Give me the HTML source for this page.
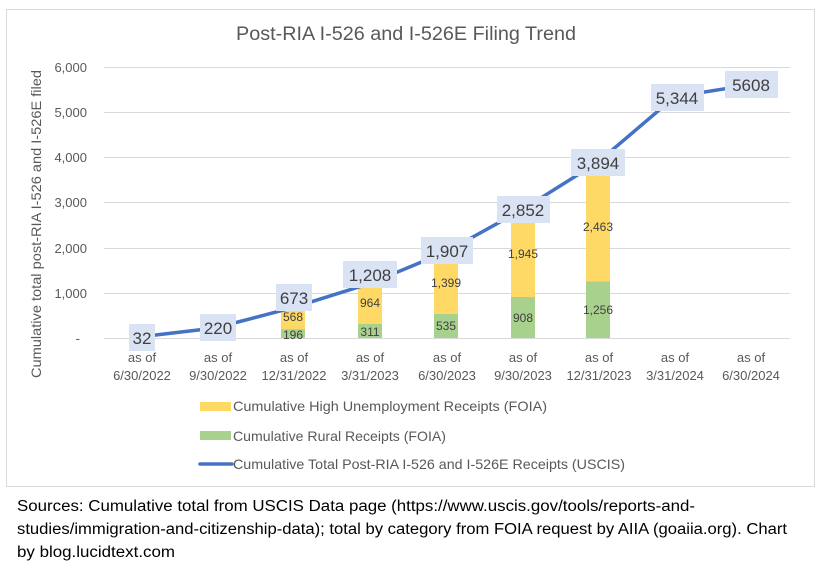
<!DOCTYPE html>
<html><head><meta charset="utf-8"><style>
body{margin:0;background:#fff;width:818px;height:563px;overflow:hidden;font-family:"Liberation Sans",sans-serif;}
</style></head><body>
<svg width="818" height="563" xmlns="http://www.w3.org/2000/svg" font-family="Liberation Sans, sans-serif">
<rect x="6.5" y="9.5" width="808" height="477" fill="#fff" stroke="#d9d9d9"/>
<text x="406" y="40" text-anchor="middle" font-size="19" fill="#595959" textLength="340" lengthAdjust="spacingAndGlyphs">Post-RIA I-526 and I-526E Filing Trend</text>
<g stroke="#d9d9d9" stroke-width="1">
<line x1="104" x2="790" y1="67.5" y2="67.5"/><line x1="104" x2="790" y1="112.5" y2="112.5"/>
<line x1="104" x2="790" y1="157.5" y2="157.5"/><line x1="104" x2="790" y1="202.5" y2="202.5"/>
<line x1="104" x2="790" y1="248.5" y2="248.5"/><line x1="104" x2="790" y1="293.5" y2="293.5"/>
<line x1="104" x2="790" y1="338.5" y2="338.5"/>
</g>
<g font-size="13" fill="#595959" text-anchor="end">
<text x="87" y="72">6,000</text><text x="87" y="117">5,000</text><text x="87" y="162">4,000</text>
<text x="87" y="207">3,000</text><text x="87" y="253">2,000</text><text x="87" y="298">1,000</text><text x="80" y="343">-</text>
</g>
<text transform="translate(41,224) rotate(-90)" text-anchor="middle" font-size="14" fill="#595959" textLength="308" lengthAdjust="spacingAndGlyphs">Cumulative total post-RIA I-526 and I-526E filed</text>
<g>
<rect x="281" y="303.5" width="24" height="25.6" fill="#ffd966"/><rect x="281" y="329.1" width="24" height="8.9" fill="#a9d18e"/>
<rect x="358" y="280.4" width="24" height="43.5" fill="#ffd966"/><rect x="358" y="323.9" width="24" height="14.1" fill="#a9d18e"/>
<rect x="434" y="250.6" width="24" height="63.2" fill="#ffd966"/><rect x="434" y="313.8" width="24" height="24.2" fill="#a9d18e"/>
<rect x="511" y="209.1" width="24" height="87.9" fill="#ffd966"/><rect x="511" y="297" width="24" height="41" fill="#a9d18e"/>
<rect x="586" y="170" width="24" height="111.3" fill="#ffd966"/><rect x="586" y="281.3" width="24" height="56.7" fill="#a9d18e"/>
</g>
<g font-size="12" fill="#404040" text-anchor="middle">
<text x="293" y="321">568</text><text x="293" y="339">196</text>
<text x="370" y="307">964</text><text x="370" y="336">311</text>
<text x="446" y="287">1,399</text><text x="446" y="330">535</text>
<text x="523" y="258">1,945</text><text x="523" y="322">908</text>
<text x="598" y="231">2,463</text><text x="598" y="314">1,256</text>
</g>
<polyline fill="none" stroke="#4472c4" stroke-width="3.5" stroke-linejoin="round" points="142,336.6 215,328 293,307.6 370,283.4 446,251.9 523,209.2 598,162.1 675,96.6 751,84.7"/>
<g fill="#dae3f3">
<rect x="129" y="324" width="26" height="27"/><rect x="200" y="314" width="36" height="27"/>
<rect x="276" y="284" width="36" height="27"/><rect x="343" y="261" width="54" height="27"/>
<rect x="421" y="237" width="52" height="27"/><rect x="497" y="196" width="53" height="27"/>
<rect x="571" y="149" width="54" height="27"/><rect x="651" y="84" width="53" height="27"/>
<rect x="725" y="71" width="53" height="27"/>
</g>
<g font-size="17" fill="#404040" text-anchor="middle">
<text x="142" y="344">32</text><text x="218" y="334">220</text><text x="294" y="304">673</text>
<text x="370" y="281">1,208</text><text x="447" y="257">1,907</text><text x="523" y="216">2,852</text>
<text x="598" y="169">3,894</text><text x="677" y="104">5,344</text><text x="751" y="91">5608</text>
</g>
<g font-size="13" fill="#595959" text-anchor="middle">
<text x="142" y="362">as of</text><text x="142" y="380">6/30/2022</text>
<text x="218" y="362">as of</text><text x="218" y="380">9/30/2022</text>
<text x="294" y="362">as of</text><text x="294" y="380">12/31/2022</text>
<text x="370" y="362">as of</text><text x="370" y="380">3/31/2023</text>
<text x="447" y="362">as of</text><text x="447" y="380">6/30/2023</text>
<text x="523" y="362">as of</text><text x="523" y="380">9/30/2023</text>
<text x="599" y="362">as of</text><text x="599" y="380">12/31/2023</text>
<text x="675" y="362">as of</text><text x="675" y="380">3/31/2024</text>
<text x="751" y="362">as of</text><text x="751" y="380">6/30/2024</text>
</g>
<rect x="200" y="402" width="31" height="9" fill="#ffd966"/>
<rect x="200" y="431" width="31" height="9" fill="#a9d18e"/>
<line x1="200" x2="232" y1="464" y2="464" stroke="#4472c4" stroke-width="3.5" stroke-linecap="round"/>
<g font-size="14" fill="#595959">
<text x="233" y="411" textLength="314" lengthAdjust="spacingAndGlyphs">Cumulative High Unemployment Receipts (FOIA)</text>
<text x="233" y="441" textLength="213" lengthAdjust="spacingAndGlyphs">Cumulative Rural Receipts (FOIA)</text>
<text x="233" y="469" textLength="392" lengthAdjust="spacingAndGlyphs">Cumulative Total Post-RIA I-526 and I-526E Receipts (USCIS)</text>
</g>
<g font-size="15.5" fill="#000">
<text x="17" y="511" textLength="678" lengthAdjust="spacingAndGlyphs">Sources: Cumulative total from USCIS Data page (https://www.uscis.gov/tools/reports-and-</text>
<text x="17" y="534" textLength="770" lengthAdjust="spacingAndGlyphs">studies/immigration-and-citizenship-data); total by category from FOIA request by AIIA (goaiia.org). Chart</text>
<text x="17" y="557" textLength="158" lengthAdjust="spacingAndGlyphs">by blog.lucidtext.com</text>
</g>
</svg>
</body></html>
